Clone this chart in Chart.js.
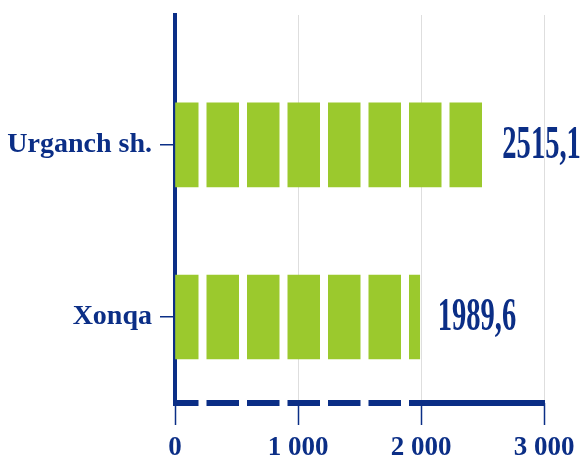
<!DOCTYPE html>
<html>
<head>
<meta charset="utf-8">
<script src="https://cdn.jsdelivr.net/npm/chart.js@4/dist/chart.umd.min.js"></script>
<style>
  html, body { margin: 0; padding: 0; background: #fff; }
  #wrap { width: 582px; height: 459px; }
</style>
</head>
<body>
<div id="wrap"><canvas id="barChart"></canvas></div>
<script>
// data
var categories = ['Urganch sh.', 'Xonqa'];
var values = [2515.1, 1989.6];
var valueLabels = ['2515,1', '1989,6'];
var xTicks = [0, 1000, 2000, 3000];
var xTickLabels = ['0', '1 000', '2 000', '3 000'];

var NAVY = '#0b2e86';
var GREEN = '#9bc92d';

// stripes of the bars (and the dashes of the bottom axis) - px
var STRIPE = 40.5, GAP = 8, PHASE = 23.5;

function stripePattern(chart) {
    var x0 = chart.scales.x.getPixelForValue(0);
    var c = document.createElement('canvas');
    c.width = 81; c.height = 4;
    var g = c.getContext('2d');
    g.fillStyle = GREEN;
    g.fillRect(0, 0, STRIPE - GAP, 4);
    g.fillRect(STRIPE, 0, STRIPE - GAP, 4);
    var p = chart.ctx.createPattern(c, 'repeat');
    p.setTransform(new DOMMatrix([1, 0, 0, 1, x0 + PHASE - (STRIPE - GAP), 0]));
    return p;
}

// bottom axis: dashed then solid + value labels
var extras = {
    id: 'extras',
    afterDraw: function (chart) {
        var ctx = chart.ctx, area = chart.chartArea;
        var x0 = chart.scales.x.getPixelForValue(0);
        var xs = x0 - 2;
        var solidFrom = x0 + PHASE + 5 * STRIPE + GAP;
        ctx.save();
        ctx.strokeStyle = NAVY;
        ctx.lineWidth = 6;
        ctx.setLineDash([STRIPE - GAP, GAP]);
        ctx.lineDashOffset = (xs - (x0 + PHASE - (STRIPE - GAP))) % STRIPE;
        ctx.beginPath();
        ctx.moveTo(xs, area.bottom);
        ctx.lineTo(solidFrom, area.bottom);
        ctx.stroke();
        ctx.setLineDash([]);
        ctx.beginPath();
        ctx.moveTo(solidFrom, area.bottom);
        ctx.lineTo(area.right + 1, area.bottom);
        ctx.stroke();

        // value labels (condensed, like the original)
        var meta = chart.getDatasetMeta(0);
        ctx.fillStyle = NAVY;
        ctx.font = 'bold 46px "Liberation Serif"';
        ctx.textBaseline = 'middle';
        ctx.textAlign = 'left';
        meta.data.forEach(function (bar, i) {
            ctx.save();
            ctx.translate(bar.x + 18, bar.y + 1);
            ctx.scale(0.62, 1);
            ctx.fillText(valueLabels[i], 0, 0);
            ctx.restore();
        });
        ctx.restore();
    }
};

new Chart(document.getElementById('barChart'), {
    type: 'bar',
    data: {
        datasets: [{
            data: values.map(function (v, i) { return { x: v, y: i + 1 }; }),
            backgroundColor: function (c) { return stripePattern(c.chart); },
            borderWidth: 0,
            barThickness: 84
        }]
    },
    options: {
        indexAxis: 'y',
        responsive: true,
        maintainAspectRatio: false,
        animation: false,
        layout: { padding: { top: 15, right: 38, left: 0, bottom: 0 } },
        plugins: { legend: { display: false }, tooltip: { enabled: false } },
        scales: {
            x: {
                type: 'linear',
                min: 0,
                max: 3000,
                afterBuildTicks: function (scale) {
                    scale.ticks = xTicks.map(function (v) { return { value: v }; });
                },
                afterFit: function (scale) { scale.height = 56; },
                border: { display: false },
                grid: { color: '#dedede', lineWidth: 1, tickColor: NAVY, tickLength: 22, tickWidth: 1.5 },
                ticks: {
                    color: NAVY,
                    padding: 7,
                    maxRotation: 0,
                    font: { family: '"Liberation Serif"', weight: 'bold', size: 27 },
                    callback: function (v, i) { return xTickLabels[i]; }
                }
            },
            y: {
                type: 'linear',
                reverse: true,
                offset: false,
                min: 0.245,
                max: 2.5,
                afterBuildTicks: function (scale) {
                    scale.ticks = categories.map(function (c, i) { return { value: i + 1 }; });
                },
                afterFit: function (scale) {
                    scale.width = 175;
                    scale.paddingTop = 0;
                    scale.paddingBottom = 0;
                },
                border: { color: NAVY, width: 4 },
                grid: { offset: false, drawOnChartArea: false, color: NAVY, tickLength: 15, lineWidth: 1.5 },
                ticks: {
                    color: NAVY,
                    padding: 8,
                    font: { family: '"Liberation Serif"', weight: 'bold', size: 28 },
                    callback: function (v, i) { return categories[i]; }
                }
            }
        }
    },
    plugins: [extras]
});
</script>
</body>
</html>
